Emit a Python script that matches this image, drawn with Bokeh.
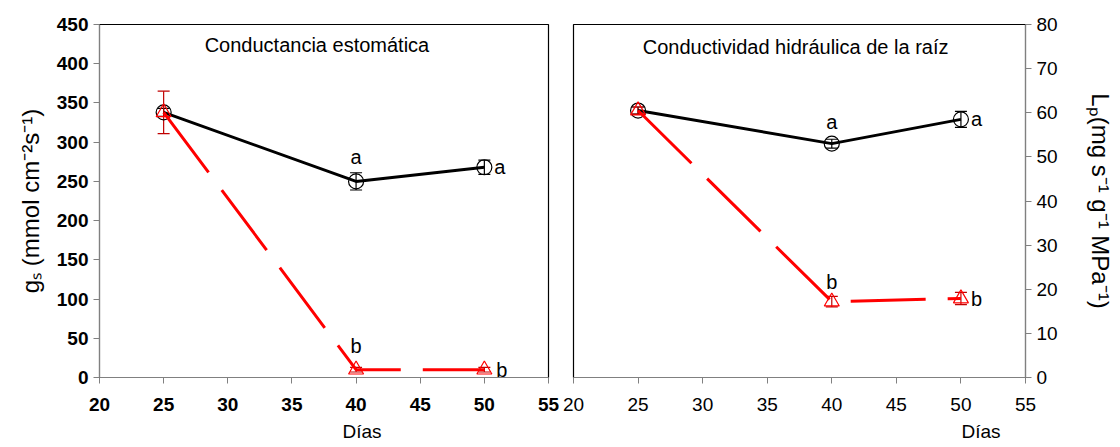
from bokeh.plotting import figure
from bokeh.models import ColumnDataSource, Whisker, TeeHead, Range1d, Label, FixedTicker, Title
from bokeh.layouts import row
from bokeh.embed import file_html
from bokeh.resources import INLINE
from bokeh.core.properties import value

# ---------------- data ----------------
dias = [25, 40, 50]
x_ticks = [20, 25, 30, 35, 40, 45, 50, 55]

gs_control = [338, 250, 268]
gs_control_err = [5, 11, 9]
gs_stress = [338, 10, 10]
gs_stress_err = [27, 3, 3]
gs_ticks = [0, 50, 100, 150, 200, 250, 300, 350, 400, 450]

lp_control = [60.5, 53.0, 58.5]
lp_control_err = [0.8, 1.0, 1.8]
lp_stress = [60.5, 17.2, 17.9]
lp_stress_err = [0.8, 1.2, 1.4]
lp_ticks = [0, 10, 20, 30, 40, 50, 60, 70, 80]

gs_letters_control = ["", "a", "a"]
gs_letters_stress = ["", "b", "b"]
lp_letters_control = ["", "a", "a"]
lp_letters_stress = ["", "b", "b"]

FONT = "Liberation Sans"
RED = "#ff0000"
RED_ERR = "#c00000"


def style_axes(p, bold):
    for ax in p.xaxis + p.yaxis:
        ax.axis_line_color = "#808080"
        ax.major_tick_line_color = "#808080"
        ax.major_tick_in = 0
        ax.major_tick_out = 6
        ax.minor_tick_line_color = None
        ax.major_label_text_font = FONT
        ax.major_label_text_font_size = "19px"
        ax.major_label_text_color = "black"
        ax.major_label_text_font_style = "bold" if bold else "normal"
        ax.axis_label_text_font = FONT
        ax.axis_label_text_font_size = "24px"
        ax.axis_label_text_font_style = "normal"
        ax.axis_label_text_color = "black"
    p.xgrid.grid_line_color = None
    p.ygrid.grid_line_color = None
    p.outline_line_color = "black"
    p.outline_line_width = 1.2


def add_series(p, x, y, err, color, err_color, marker, dash, letters, lx_right, ly_up, ry_off):
    src = ColumnDataSource(dict(x=x, y=y,
                                upper=[a + b for a, b in zip(y, err)],
                                lower=[a - b for a, b in zip(y, err)]))
    p.line("x", "y", source=src, line_color=color, line_width=3, line_dash=dash)
    w = Whisker(base="x", upper="upper", lower="lower", source=src,
                line_color=err_color, line_width=1.2,
                upper_head=TeeHead(size=12, line_color=err_color, line_width=1.2),
                lower_head=TeeHead(size=12, line_color=err_color, line_width=1.2))
    p.add_layout(w)
    p.scatter("x", "y", source=src, marker=marker, size=15, fill_alpha=0,
              line_color=color, line_width=1.2)
    # letters: above point at day 40, right of point at day 50
    lsrc = ColumnDataSource(dict(
        x=[x[1], x[2]], y=[y[1], y[2]], t=[letters[1], letters[2]],
        xo=[0, lx_right], yo=[-ly_up, ry_off],
        al=["center", "left"]))
    p.text("x", "y", text="t", source=lsrc, x_offset="xo", y_offset="yo",
           text_align="al", text_baseline="middle",
           text_font=value(FONT), text_font_size="20px", text_color="black")


def dias_title(offset):
    return Title(text="Días", align="left", offset=offset, text_font=FONT,
                 text_font_size="19px", text_font_style="normal", text_color="black",
                 standoff=11)


# ---------------- left panel ----------------
p1 = figure(width=560, height=447, output_backend="svg", toolbar_location=None,
            x_range=Range1d(20, 55), y_range=Range1d(0, 450),
            min_border_left=99, min_border_right=12, min_border_top=24, min_border_bottom=70)
p1.xaxis.ticker = FixedTicker(ticks=x_ticks)
p1.yaxis.ticker = FixedTicker(ticks=gs_ticks)
style_axes(p1, bold=True)
p1.yaxis.axis_label = "g\u209b (mmol cm\u207b\u00b2s\u207b\u00b9)"
p1.yaxis.axis_label_standoff = 10
p1.yaxis.major_label_standoff = 5
p1.xaxis.major_label_standoff = 14
p1.add_layout(dias_title(243), "below")

add_series(p1, dias, gs_control, gs_control_err, "black", "black", "circle", "solid",
           gs_letters_control, 10, 24, 0)
add_series(p1, dias, gs_stress, gs_stress_err, RED, RED_ERR, "triangle", "75 22",
           gs_letters_stress, 12, 24, 0)

p1.add_layout(Label(x=36.95, y=424, text="Conductancia estomática", text_align="center",
                    text_baseline="middle", text_font=FONT, text_font_size="20px",
                    text_color="black"))

# ---------------- right panel ----------------
p2 = figure(width=560, height=447, output_backend="svg", toolbar_location=None,
            x_range=Range1d(20, 55), y_range=Range1d(0, 80), y_axis_location="right",
            min_border_left=13, min_border_right=95, min_border_top=24, min_border_bottom=70)
p2.xaxis.ticker = FixedTicker(ticks=x_ticks)
p2.yaxis.ticker = FixedTicker(ticks=lp_ticks)
style_axes(p2, bold=False)
p2.yaxis.axis_label = "L\u209a(mg s\u207b\u00b9 g\u207b\u00b9 MPa\u207b\u00b9)"
p2.yaxis.axis_label_standoff = 26
p2.yaxis.major_label_standoff = 5
p2.xaxis.major_label_standoff = 14
p2.add_layout(dias_title(388), "below")

add_series(p2, dias, lp_control, lp_control_err, "black", "black", "circle", "solid",
           lp_letters_control, 10, 22, 0)
add_series(p2, dias, lp_stress, lp_stress_err, RED, RED_ERR, "triangle", "75 22",
           lp_letters_stress, 10, 20, 0)

p2.add_layout(Label(x=37.2, y=75, text="Conductividad hidráulica de la raíz", text_align="center",
                    text_baseline="middle", text_font=FONT, text_font_size="20px",
                    text_color="black"))

layout = row(p1, p2)
open("out.html", "w").write(file_html(layout, INLINE))
